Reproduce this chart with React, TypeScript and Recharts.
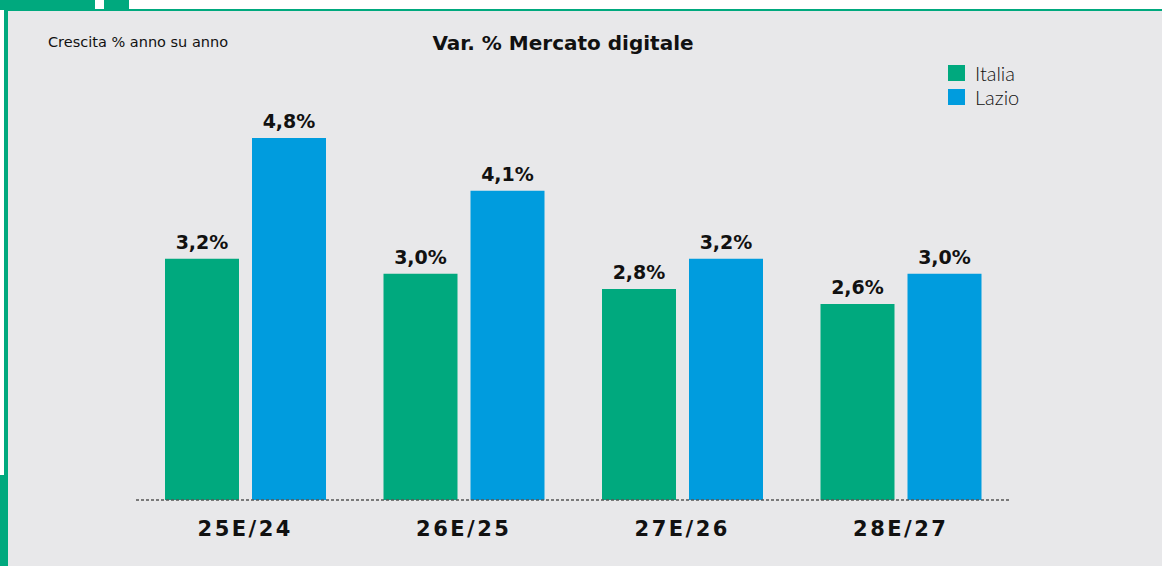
import React from 'react';
import { BarChart, Bar, XAxis, YAxis, LabelList } from 'recharts';

const periods = ['25E/24', '26E/25', '27E/26', '28E/27'];
const italia = [3.2, 3.0, 2.8, 2.6];
const lazio = [4.8, 4.1, 3.2, 3.0];

const GREEN = '#00A97E';
const BLUE = '#009CDE';
const FONT = '"DejaVu Sans", sans-serif';
const LIGHT = 'Lato, "Noto Sans", sans-serif';

const series = [
    { key: 'Italia', color: GREEN },
    { key: 'Lazio', color: BLUE },
];

const data = periods.map((p, i) => ({ period: p, Italia: italia[i], Lazio: lazio[i] }));

const fmt = (v: number) => v.toFixed(1).replace('.', ',') + '%';

const Tick = (props: any) => {
    const { x, y, payload } = props;
    return (
        <text x={x} y={y + 28} textAnchor="middle" fontFamily={FONT} fontWeight={700} fontSize={21} fill="#111" letterSpacing={2.5}>
            {payload.value}
        </text>
    );
};

const labelStyle = { fontFamily: FONT, fontWeight: 700, fontSize: 19, fill: '#111' };

export default function App() {
    return (
        <div style={{ position: 'absolute', left: 0, top: 0, width: 1162, height: 566, background: '#fff', overflow: 'hidden' }}>
            {/* decorative frame bits */}
            <div style={{ position: 'absolute', left: 0, top: 0, width: 95, height: 10, background: GREEN }} />
            <div style={{ position: 'absolute', left: 104, top: 0, width: 25, height: 10, background: GREEN }} />
            <div style={{ position: 'absolute', left: 4, top: 10, width: 4, height: 556, background: GREEN }} />
            <div style={{ position: 'absolute', left: 0, top: 475, width: 4, height: 91, background: GREEN }} />
            <div style={{ position: 'absolute', left: 8, top: 9, width: 1154, height: 557, background: '#E8E8EA', borderTop: `2px solid ${GREEN}` }}>
                <div style={{ position: 'absolute', left: 40, top: 23, fontFamily: FONT, fontSize: 14.5, color: '#111' }}>
                    Crescita % anno su anno
                </div>
                <div style={{ position: 'absolute', left: 0, width: 1110, top: 20, textAlign: 'center', fontFamily: FONT, fontSize: 20, fontWeight: 700, color: '#111' }}>
                    Var. % Mercato digitale
                </div>
                <div style={{ position: 'absolute', left: 940, top: 50, fontFamily: LIGHT, fontSize: 20, fontWeight: 300, color: '#111' }}>
                    {series.map((s) => (
                        <div key={s.key} style={{ display: 'flex', alignItems: 'center', height: 24 }}>
                            <span style={{ width: 17, height: 16, background: s.color, marginRight: 10 }} />
                            {s.key}
                        </div>
                    ))}
                </div>
                <BarChart
                    width={1154}
                    height={555}
                    data={data}
                    margin={{ top: 112, right: 152, bottom: 26, left: 128 }}
                    barSize={74}
                    barGap={13}
                >
                    <XAxis
                        dataKey="period"
                        height={40}
                        tickLine={false}
                        axisLine={{ stroke: '#555', strokeDasharray: '3 2', strokeWidth: 1.3 }}
                        tick={<Tick />}
                        interval={0}
                    />
                    <YAxis hide domain={[0, 5]} />
                    {series.map((s) => (
                        <Bar key={s.key} dataKey={s.key} fill={s.color} isAnimationActive={false}>
                            <LabelList dataKey={s.key} position="top" offset={10} formatter={(v: any) => fmt(Number(v))} style={labelStyle} />
                        </Bar>
                    ))}
                </BarChart>
            </div>
        </div>
    );
}
